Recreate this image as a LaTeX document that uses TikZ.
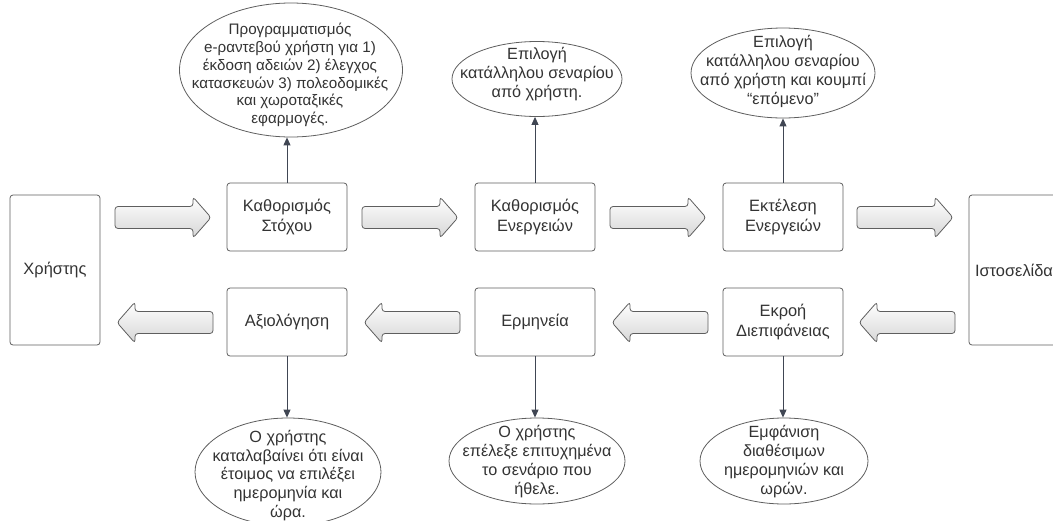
\documentclass[tikz,border=0pt]{standalone}
\usepackage{fontspec}
\setmainfont{Liberation Sans}
\usetikzlibrary{shapes.geometric,arrows.meta}
\definecolor{txt}{HTML}{333333}
\definecolor{edge}{HTML}{5E5E5E}
\definecolor{wire}{HTML}{404653}
\definecolor{blkfill}{HTML}{D6D6D6}

% block arrows: #1 = tail x, #2 = tip x, #3 = centre y
\newcommand\blockright[3]{%
  \path[blk] (#1,#3-11) -- (#2-18,#3-11) -- (#2-18,#3-20.5) -- (#2,#3)
    -- (#2-18,#3+20.5) -- (#2-18,#3+11) -- (#1,#3+11) -- cycle;}
\newcommand\blockleft[3]{%
  \path[blk] (#1,#3-11) -- (#2+18,#3-11) -- (#2+18,#3-20.5) -- (#2,#3)
    -- (#2+18,#3+20.5) -- (#2+18,#3+11) -- (#1,#3+11) -- cycle;}

\begin{document}
\begin{tikzpicture}[x=1pt,y=-1pt,
  box/.style={draw=edge, line width=0.8pt, rounded corners=3pt,
    minimum width=120pt, minimum height=68pt, align=center, text=txt,
    font=\fontsize{16.4}{19.2}\selectfont, inner sep=0pt},
  tallbox/.style={box, minimum width=90pt, minimum height=150pt},
  oval/.style={ellipse, draw=edge, line width=0.8pt, inner sep=0pt},
  ovaltext/.style={align=center, text=txt, inner sep=0pt,
    font=\fontsize{16.2}{18.8}\selectfont},
  conn/.style={draw=wire, line width=0.9pt, -{Triangle[length=8pt,width=7pt]}},
  blk/.style={draw=edge, line width=0.8pt, rounded corners=3pt,
    top color=white, bottom color=blkfill}]
\clip (0,0) rectangle (1053,520);

% actors
\node[tallbox] (user) at (55,270) {Χρήστης};
\node[tallbox] (site) at (1014,270) {Ιστοσελίδα};

% execution row
\node[box] (goal) at (287,217) {Καθορισμός\\Στόχου};
\node[box] (plan) at (535,217) {Καθορισμός\\Ενεργειών};
\node[box] (exec) at (783,217) {Εκτέλεση\\Ενεργειών};

% evaluation row
\node[box] (eval) at (287,322) {Αξιολόγηση};
\node[box] (interp) at (535,322) {Ερμηνεία};
\node[box] (outp) at (783,322) {Εκροή\\Διεπιφάνειας};

% block arrows between the stages
\blockright{115}{211}{217.5}
\blockright{362}{458}{217.5}
\blockright{610}{706}{217.5}
\blockright{857}{953}{217.5}
\blockleft{213}{117}{322.5}
\blockleft{460}{364}{322.5}
\blockleft{708}{612}{322.5}
\blockleft{955}{859}{322.5}

% notes above
\node[oval, minimum width=223pt, minimum height=134pt] (n1) at (291,70) {};
\node[ovaltext, font=\fontsize{15.2}{17.7}\selectfont] (t1) at (290,75)
  {Προγραμματισμός\\e-ραντεβού χρήστη για 1)\\έκδοση αδειών 2) έλεγχος\\κατασκευών 3) πολεοδομικές\\και χωροταξικές\\εφαρμογές.};
\node[oval, minimum width=170pt, minimum height=75pt] (n2) at (537,79) {};
\node[ovaltext] (t2) at (537,74) {Επιλογή\\κατάλληλου σεναρίου\\από χρήστη.};
\node[oval, minimum width=184pt, minimum height=90pt] (n3) at (783,73) {};
\node[ovaltext] (t3) at (783,71.5) {Επιλογή\\κατάλληλου σεναρίου\\από χρήστη και κουμπί\\“επόμενο"};

% notes below
\node[oval, minimum width=186pt, minimum height=108pt] (n4) at (288,472) {};
\node[ovaltext] (t4) at (288,475.5) {Ο χρήστης\\καταλαβαίνει ότι είναι\\έτοιμος να επιλέξει\\ημερομηνία και\\ώρα.};
\node[oval, minimum width=176pt, minimum height=86pt] (n5) at (537,461) {};
\node[ovaltext] (t5) at (537,461.5) {Ο χρήστης\\επέλεξε επιτυχημένα\\το σενάριο που\\ήθελε.};
\node[oval, minimum width=168pt, minimum height=86pt] (n6) at (784,461) {};
\node[ovaltext] (t6) at (784,461.5) {Εμφάνιση\\διαθέσιμων\\ημερομηνιών και\\ωρών.};

% connectors to the notes
\draw[conn] (goal.north) -- (goal.north |- n1.south);
\draw[conn] (plan.north) -- (plan.north |- n2.south);
\draw[conn] (exec.north) -- (exec.north |- n3.south);
\draw[conn] (eval.south) -- (eval.south |- n4.north);
\draw[conn] (interp.south) -- (interp.south |- n5.north);
\draw[conn] (outp.south) -- (outp.south |- n6.north);
\end{tikzpicture}
\end{document}
